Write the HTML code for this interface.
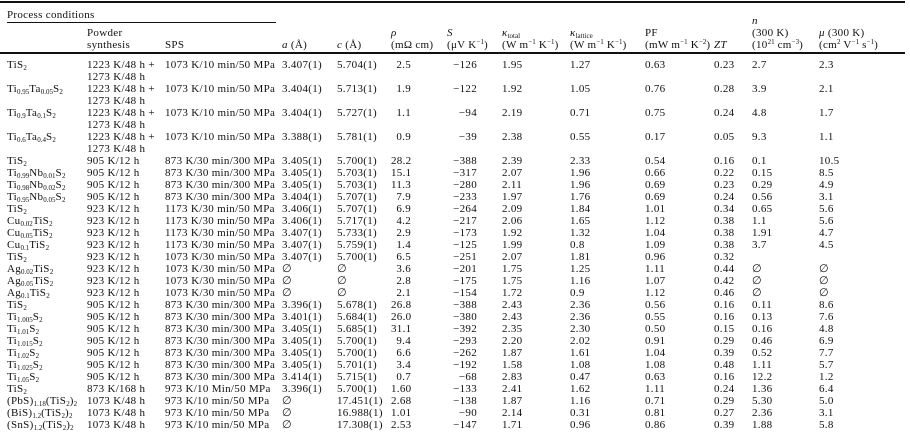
<!DOCTYPE html>
<html><head><meta charset="utf-8"><style>
body{margin:0;width:910px;height:437px;background:#fff;overflow:hidden;font-family:"Liberation Serif",serif;font-size:11px;letter-spacing:0.3px;color:#111;position:relative}
.a{position:absolute;white-space:nowrap;line-height:12px}
sub{font-size:7px;vertical-align:-2px;line-height:0;letter-spacing:0}
sup{font-size:7px;vertical-align:4px;line-height:0;letter-spacing:0}
table{position:absolute;left:0;top:59px;border-collapse:collapse;table-layout:fixed;width:905px}
td{padding:0;height:12px;line-height:12px;white-space:nowrap;vertical-align:top;overflow:visible}
tr.d td{height:24px}
td.r1{text-align:right;padding-right:36px}
td.r2{text-align:right;padding-right:25px}
i{font-style:italic}
</style></head><body>
<div style="position:absolute;left:0;top:1px;width:905px;height:2px;background:#111"></div>
<div class="a" style="left:7px;top:9px">Process conditions</div>
<div style="position:absolute;left:7px;top:22px;width:269px;height:1px;background:#111"></div>
<div class="a" style="left:87px;top:27px">Powder<br>synthesis</div>
<div class="a" style="left:165px;top:39px">SPS</div>
<div class="a" style="left:282px;top:39px"><i>a</i> (Å)</div>
<div class="a" style="left:337px;top:39px"><i>c</i> (Å)</div>
<div class="a" style="left:391px;top:27px"><i>ρ</i><br>(mΩ cm)</div>
<div class="a" style="left:447px;top:27px"><i>S</i><br>(μV K<sup>−1</sup>)</div>
<div class="a" style="left:502px;top:27px"><i>κ</i><sub>total</sub><br>(W m<sup>−1</sup> K<sup>−1</sup>)</div>
<div class="a" style="left:570px;top:27px"><i>κ</i><sub>lattice</sub><br>(W m<sup>−1</sup> K<sup>−1</sup>)</div>
<div class="a" style="left:645px;top:27px">PF<br>(mW m<sup>−1</sup> K<sup>−2</sup>)</div>
<div class="a" style="left:714px;top:39px"><i>ZT</i></div>
<div class="a" style="left:752px;top:15px"><i>n</i><br>(300 K)<br>(10<sup>21</sup> cm<sup>−3</sup>)</div>
<div class="a" style="left:819px;top:27px"><i>μ</i> (300 K)<br>(cm<sup>2</sup> V<sup>−1</sup> s<sup>−1</sup>)</div>
<div style="position:absolute;left:0;top:52px;width:905px;height:2px;background:#111"></div>
<table>
<colgroup><col style="width:87px"><col style="width:78px"><col style="width:117px"><col style="width:55px"><col style="width:54px"><col style="width:56px"><col style="width:55px"><col style="width:68px"><col style="width:75px"><col style="width:69px"><col style="width:38px"><col style="width:67px"><col style="width:86px"></colgroup>
<tr class="d"><td style="padding-left:7px">TiS<sub>2</sub></td><td>1223 K/48 h +<br>1273 K/48 h</td><td>1073 K/10 min/50 MPa</td><td>3.407(1)</td><td>5.704(1)</td><td class="r1">2.5</td><td class="r2">−126</td><td>1.95</td><td>1.27</td><td>0.63</td><td>0.23</td><td>2.7</td><td>2.3</td></tr>
<tr class="d"><td style="padding-left:7px">Ti<sub>0.95</sub>Ta<sub>0.05</sub>S<sub>2</sub></td><td>1223 K/48 h +<br>1273 K/48 h</td><td>1073 K/10 min/50 MPa</td><td>3.404(1)</td><td>5.713(1)</td><td class="r1">1.9</td><td class="r2">−122</td><td>1.92</td><td>1.05</td><td>0.76</td><td>0.28</td><td>3.9</td><td>2.1</td></tr>
<tr class="d"><td style="padding-left:7px">Ti<sub>0.9</sub>Ta<sub>0.1</sub>S<sub>2</sub></td><td>1223 K/48 h +<br>1273 K/48 h</td><td>1073 K/10 min/50 MPa</td><td>3.404(1)</td><td>5.727(1)</td><td class="r1">1.1</td><td class="r2">−94</td><td>2.19</td><td>0.71</td><td>0.75</td><td>0.24</td><td>4.8</td><td>1.7</td></tr>
<tr class="d"><td style="padding-left:7px">Ti<sub>0.6</sub>Ta<sub>0.4</sub>S<sub>2</sub></td><td>1223 K/48 h +<br>1273 K/48 h</td><td>1073 K/10 min/50 MPa</td><td>3.388(1)</td><td>5.781(1)</td><td class="r1">0.9</td><td class="r2">−39</td><td>2.38</td><td>0.55</td><td>0.17</td><td>0.05</td><td>9.3</td><td>1.1</td></tr>
<tr><td style="padding-left:7px">TiS<sub>2</sub></td><td>905 K/12 h</td><td>873 K/30 min/300 MPa</td><td>3.405(1)</td><td>5.700(1)</td><td class="r1">28.2</td><td class="r2">−388</td><td>2.39</td><td>2.33</td><td>0.54</td><td>0.16</td><td>0.1</td><td>10.5</td></tr>
<tr><td style="padding-left:7px">Ti<sub>0.99</sub>Nb<sub>0.01</sub>S<sub>2</sub></td><td>905 K/12 h</td><td>873 K/30 min/300 MPa</td><td>3.405(1)</td><td>5.703(1)</td><td class="r1">15.1</td><td class="r2">−317</td><td>2.07</td><td>1.96</td><td>0.66</td><td>0.22</td><td>0.15</td><td>8.5</td></tr>
<tr><td style="padding-left:7px">Ti<sub>0.98</sub>Nb<sub>0.02</sub>S<sub>2</sub></td><td>905 K/12 h</td><td>873 K/30 min/300 MPa</td><td>3.405(1)</td><td>5.703(1)</td><td class="r1">11.3</td><td class="r2">−280</td><td>2.11</td><td>1.96</td><td>0.69</td><td>0.23</td><td>0.29</td><td>4.9</td></tr>
<tr><td style="padding-left:7px">Ti<sub>0.95</sub>Nb<sub>0.05</sub>S<sub>2</sub></td><td>905 K/12 h</td><td>873 K/30 min/300 MPa</td><td>3.404(1)</td><td>5.707(1)</td><td class="r1">7.9</td><td class="r2">−233</td><td>1.97</td><td>1.76</td><td>0.69</td><td>0.24</td><td>0.56</td><td>3.1</td></tr>
<tr><td style="padding-left:7px">TiS<sub>2</sub></td><td>923 K/12 h</td><td>1173 K/30 min/50 MPa</td><td>3.406(1)</td><td>5.707(1)</td><td class="r1">6.9</td><td class="r2">−264</td><td>2.09</td><td>1.84</td><td>1.01</td><td>0.34</td><td>0.65</td><td>5.6</td></tr>
<tr><td style="padding-left:7px">Cu<sub>0.02</sub>TiS<sub>2</sub></td><td>923 K/12 h</td><td>1173 K/30 min/50 MPa</td><td>3.406(1)</td><td>5.717(1)</td><td class="r1">4.2</td><td class="r2">−217</td><td>2.06</td><td>1.65</td><td>1.12</td><td>0.38</td><td>1.1</td><td>5.6</td></tr>
<tr><td style="padding-left:7px">Cu<sub>0.05</sub>TiS<sub>2</sub></td><td>923 K/12 h</td><td>1173 K/30 min/50 MPa</td><td>3.407(1)</td><td>5.733(1)</td><td class="r1">2.9</td><td class="r2">−173</td><td>1.92</td><td>1.32</td><td>1.04</td><td>0.38</td><td>1.91</td><td>4.7</td></tr>
<tr><td style="padding-left:7px">Cu<sub>0.1</sub>TiS<sub>2</sub></td><td>923 K/12 h</td><td>1173 K/30 min/50 MPa</td><td>3.407(1)</td><td>5.759(1)</td><td class="r1">1.4</td><td class="r2">−125</td><td>1.99</td><td>0.8</td><td>1.09</td><td>0.38</td><td>3.7</td><td>4.5</td></tr>
<tr><td style="padding-left:7px">TiS<sub>2</sub></td><td>923 K/12 h</td><td>1073 K/30 min/50 MPa</td><td>3.407(1)</td><td>5.700(1)</td><td class="r1">6.5</td><td class="r2">−251</td><td>2.07</td><td>1.81</td><td>0.96</td><td>0.32</td><td></td><td></td></tr>
<tr><td style="padding-left:7px">Ag<sub>0.02</sub>TiS<sub>2</sub></td><td>923 K/12 h</td><td>1073 K/30 min/50 MPa</td><td>∅</td><td>∅</td><td class="r1">3.6</td><td class="r2">−201</td><td>1.75</td><td>1.25</td><td>1.11</td><td>0.44</td><td>∅</td><td>∅</td></tr>
<tr><td style="padding-left:7px">Ag<sub>0.05</sub>TiS<sub>2</sub></td><td>923 K/12 h</td><td>1073 K/30 min/50 MPa</td><td>∅</td><td>∅</td><td class="r1">2.8</td><td class="r2">−175</td><td>1.75</td><td>1.16</td><td>1.07</td><td>0.42</td><td>∅</td><td>∅</td></tr>
<tr><td style="padding-left:7px">Ag<sub>0.1</sub>TiS<sub>2</sub></td><td>923 K/12 h</td><td>1073 K/30 min/50 MPa</td><td>∅</td><td>∅</td><td class="r1">2.1</td><td class="r2">−154</td><td>1.72</td><td>0.9</td><td>1.12</td><td>0.46</td><td>∅</td><td>∅</td></tr>
<tr><td style="padding-left:7px">TiS<sub>2</sub></td><td>905 K/12 h</td><td>873 K/30 min/300 MPa</td><td>3.396(1)</td><td>5.678(1)</td><td class="r1">26.8</td><td class="r2">−388</td><td>2.43</td><td>2.36</td><td>0.56</td><td>0.16</td><td>0.11</td><td>8.6</td></tr>
<tr><td style="padding-left:7px">Ti<sub>1.005</sub>S<sub>2</sub></td><td>905 K/12 h</td><td>873 K/30 min/300 MPa</td><td>3.401(1)</td><td>5.684(1)</td><td class="r1">26.0</td><td class="r2">−380</td><td>2.43</td><td>2.36</td><td>0.55</td><td>0.16</td><td>0.13</td><td>7.6</td></tr>
<tr><td style="padding-left:7px">Ti<sub>1.01</sub>S<sub>2</sub></td><td>905 K/12 h</td><td>873 K/30 min/300 MPa</td><td>3.405(1)</td><td>5.685(1)</td><td class="r1">31.1</td><td class="r2">−392</td><td>2.35</td><td>2.30</td><td>0.50</td><td>0.15</td><td>0.16</td><td>4.8</td></tr>
<tr><td style="padding-left:7px">Ti<sub>1.015</sub>S<sub>2</sub></td><td>905 K/12 h</td><td>873 K/30 min/300 MPa</td><td>3.405(1)</td><td>5.700(1)</td><td class="r1">9.4</td><td class="r2">−293</td><td>2.20</td><td>2.02</td><td>0.91</td><td>0.29</td><td>0.46</td><td>6.9</td></tr>
<tr><td style="padding-left:7px">Ti<sub>1.02</sub>S<sub>2</sub></td><td>905 K/12 h</td><td>873 K/30 min/300 MPa</td><td>3.405(1)</td><td>5.700(1)</td><td class="r1">6.6</td><td class="r2">−262</td><td>1.87</td><td>1.61</td><td>1.04</td><td>0.39</td><td>0.52</td><td>7.7</td></tr>
<tr><td style="padding-left:7px">Ti<sub>1.025</sub>S<sub>2</sub></td><td>905 K/12 h</td><td>873 K/30 min/300 MPa</td><td>3.405(1)</td><td>5.701(1)</td><td class="r1">3.4</td><td class="r2">−192</td><td>1.58</td><td>1.08</td><td>1.08</td><td>0.48</td><td>1.11</td><td>5.7</td></tr>
<tr><td style="padding-left:7px">Ti<sub>1.05</sub>S<sub>2</sub></td><td>905 K/12 h</td><td>873 K/30 min/300 MPa</td><td>3.414(1)</td><td>5.715(1)</td><td class="r1">0.7</td><td class="r2">−68</td><td>2.83</td><td>0.47</td><td>0.63</td><td>0.16</td><td>12.2</td><td>1.2</td></tr>
<tr><td style="padding-left:7px">TiS<sub>2</sub></td><td>873 K/168 h</td><td>973 K/10 Min/50 MPa</td><td>3.396(1)</td><td>5.700(1)</td><td class="r1">1.60</td><td class="r2">−133</td><td>2.41</td><td>1.62</td><td>1.11</td><td>0.24</td><td>1.36</td><td>6.4</td></tr>
<tr><td style="padding-left:7px">(PbS)<sub>1.18</sub>(TiS<sub>2</sub>)<sub>2</sub></td><td>1073 K/48 h</td><td>973 K/10 min/50 MPa</td><td>∅</td><td>17.451(1)</td><td class="r1">2.68</td><td class="r2">−138</td><td>1.87</td><td>1.16</td><td>0.71</td><td>0.29</td><td>5.30</td><td>5.0</td></tr>
<tr><td style="padding-left:7px">(BiS)<sub>1.2</sub>(TiS<sub>2</sub>)<sub>2</sub></td><td>1073 K/48 h</td><td>973 K/10 min/50 MPa</td><td>∅</td><td>16.988(1)</td><td class="r1">1.01</td><td class="r2">−90</td><td>2.14</td><td>0.31</td><td>0.81</td><td>0.27</td><td>2.36</td><td>3.1</td></tr>
<tr><td style="padding-left:7px">(SnS)<sub>1.2</sub>(TiS<sub>2</sub>)<sub>2</sub></td><td>1073 K/48 h</td><td>973 K/10 min/50 MPa</td><td>∅</td><td>17.308(1)</td><td class="r1">2.53</td><td class="r2">−147</td><td>1.71</td><td>0.96</td><td>0.86</td><td>0.39</td><td>1.88</td><td>5.8</td></tr>
</table>
</body></html>
